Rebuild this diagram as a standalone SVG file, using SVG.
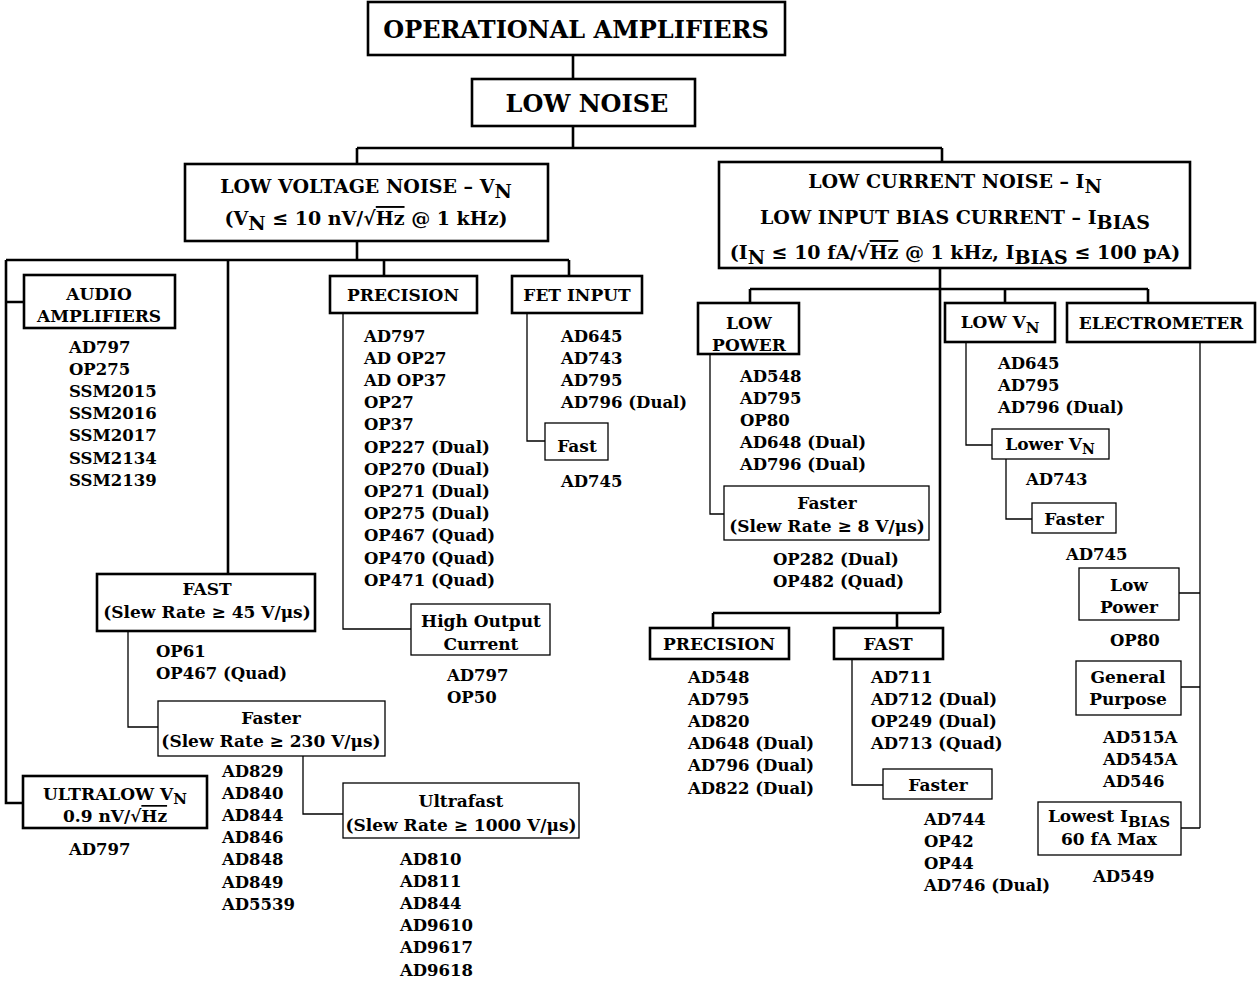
<svg xmlns="http://www.w3.org/2000/svg" width="1258" height="983" viewBox="0 0 1258 983">
<style>
text { font-family: "DejaVu Serif", "Liberation Serif", serif; font-weight: bold; fill: #000; }
.h1 { font-size: 24px; }
.h2 { font-size: 19px; }
.bt { font-size: 17px; }
.li { font-size: 16.5px; }
.c { text-anchor: middle; }
.tb { fill: #fff; stroke: #000; stroke-width: 2.6; }
.tn { fill: #fff; stroke: #000; stroke-width: 1.3; }
.ct { stroke: #000; stroke-width: 2.6; fill: none; }
.cn { stroke: #000; stroke-width: 1.3; fill: none; }
.ov { text-decoration: overline; }
</style>
<rect width="1258" height="983" fill="#fff"/>

<g id="connectors">
  <path class="ct" d="M573 55V79M573 126V148M357 148H942M357 148V164M942 148V162"/>
  <path class="ct" d="M357 241V260M6 260H569M6 260V803H23M6 302H24M228 260V574M384 260V276M569 260V276"/>
  <path class="cn" d="M343 313V629H411M527 313V441H545M128 631V727H158M303 756V814H343"/>
  <path class="ct" d="M940 268V613M750 289H1148M750 289V303M1005 289V303M1148 289V303M713 613H940M713 613V628M897 613V628"/>
  <path class="cn" d="M710 354V514H724M852 659V785H883M966 342V445H992M1006 459V519H1032M1200 342V828M1179 593H1200M1181 687H1200M1181 828H1200"/>
</g>

<g id="op-amps">
  <rect class="tb" x="368" y="2" width="417" height="53"/>
  <text class="h1 c" x="576" y="38">OPERATIONAL AMPLIFIERS</text>
</g>
<g id="low-noise">
  <rect class="tb" x="472" y="79" width="223" height="47"/>
  <text class="h1 c" x="587" y="112">LOW NOISE</text>
</g>
<g id="low-voltage-noise">
  <rect class="tb" x="185" y="164" width="363" height="77"/>
  <text class="h2 c" x="366" y="193">LOW VOLTAGE NOISE – V<tspan dy="5">N</tspan></text>
  <text class="h2 c" x="366" y="225">(V<tspan dy="5">N</tspan><tspan dy="-5"> ≤ 10 nV/√</tspan><tspan class="ov">Hz</tspan> @ 1 kHz)</text>
</g>
<g id="low-current-noise">
  <rect class="tb" x="719" y="162" width="471" height="106"/>
  <text class="h2 c" x="955" y="188">LOW CURRENT NOISE –  I<tspan dy="5">N</tspan></text>
  <text class="h2 c" x="955" y="224">LOW INPUT BIAS CURRENT – I<tspan dy="5">BIAS</tspan></text>
  <text class="h2 c" x="955" y="259">(I<tspan dy="5">N</tspan><tspan dy="-5"> ≤ 10 fA/√</tspan><tspan class="ov">Hz</tspan> @ 1 kHz, I<tspan dy="5">BIAS</tspan><tspan dy="-5"> ≤ 100 pA)</tspan></text>
</g>

<g id="audio">
  <rect class="tb" x="24" y="275" width="151" height="53"/>
  <text class="bt c" x="99" y="300">AUDIO</text>
  <text class="bt c" x="99" y="322">AMPLIFIERS</text>
  <text class="li" x="69" y="352.5">AD797</text>
  <text class="li" x="69" y="374.7">OP275</text>
  <text class="li" x="69" y="396.9">SSM2015</text>
  <text class="li" x="69" y="419.1">SSM2016</text>
  <text class="li" x="69" y="441.3">SSM2017</text>
  <text class="li" x="69" y="463.5">SSM2134</text>
  <text class="li" x="69" y="485.7">SSM2139</text>
</g>

<g id="precision-v">
  <rect class="tb" x="330" y="276" width="147" height="37"/>
  <text class="bt c" x="403" y="301">PRECISION</text>
  <text class="li" x="364" y="341.5">AD797</text>
  <text class="li" x="364" y="363.7">AD OP27</text>
  <text class="li" x="364" y="385.9">AD OP37</text>
  <text class="li" x="364" y="408.1">OP27</text>
  <text class="li" x="364" y="430.3">OP37</text>
  <text class="li" x="364" y="452.5">OP227 (Dual)</text>
  <text class="li" x="364" y="474.7">OP270 (Dual)</text>
  <text class="li" x="364" y="496.9">OP271 (Dual)</text>
  <text class="li" x="364" y="519.1">OP275 (Dual)</text>
  <text class="li" x="364" y="541.3">OP467 (Quad)</text>
  <text class="li" x="364" y="563.5">OP470 (Quad)</text>
  <text class="li" x="364" y="585.7">OP471 (Quad)</text>
</g>
<g id="high-output">
  <rect class="tn" x="411" y="604" width="139" height="51"/>
  <text class="bt c" x="481" y="627">High Output</text>
  <text class="bt c" x="481" y="650">Current</text>
  <text class="li" x="447" y="680.5">AD797</text>
  <text class="li" x="447" y="702.7">OP50</text>
</g>

<g id="fet-input">
  <rect class="tb" x="512" y="276" width="130" height="37"/>
  <text class="bt c" x="577" y="301">FET INPUT</text>
  <text class="li" x="561" y="341.5">AD645</text>
  <text class="li" x="561" y="363.7">AD743</text>
  <text class="li" x="561" y="385.9">AD795</text>
  <text class="li" x="561" y="408.1">AD796 (Dual)</text>
</g>
<g id="fet-fast">
  <rect class="tn" x="545" y="423" width="63" height="37"/>
  <text class="bt c" x="577" y="452">Fast</text>
  <text class="li" x="561" y="486.5">AD745</text>
</g>

<g id="fast-v">
  <rect class="tb" x="97" y="574" width="218" height="57"/>
  <text class="bt c" x="207" y="595">FAST</text>
  <text class="bt c" x="207" y="618">(Slew Rate ≥  45 V/μs)</text>
  <text class="li" x="156" y="656.5">OP61</text>
  <text class="li" x="156" y="678.7">OP467 (Quad)</text>
</g>
<g id="faster-v">
  <rect class="tn" x="158" y="701" width="227" height="55"/>
  <text class="bt c" x="271" y="724">Faster</text>
  <text class="bt c" x="271" y="747">(Slew Rate ≥ 230 V/μs)</text>
  <text class="li" x="222" y="776.5">AD829</text>
  <text class="li" x="222" y="798.7">AD840</text>
  <text class="li" x="222" y="820.9">AD844</text>
  <text class="li" x="222" y="843.1">AD846</text>
  <text class="li" x="222" y="865.3">AD848</text>
  <text class="li" x="222" y="887.5">AD849</text>
  <text class="li" x="222" y="909.7">AD5539</text>
</g>
<g id="ultrafast">
  <rect class="tn" x="343" y="783" width="236" height="55"/>
  <text class="bt c" x="461" y="807">Ultrafast</text>
  <text class="bt c" x="461" y="831">(Slew Rate ≥ 1000 V/μs)</text>
  <text class="li" x="400" y="864.5">AD810</text>
  <text class="li" x="400" y="886.7">AD811</text>
  <text class="li" x="400" y="908.9">AD844</text>
  <text class="li" x="400" y="931.1">AD9610</text>
  <text class="li" x="400" y="953.3">AD9617</text>
  <text class="li" x="400" y="975.5">AD9618</text>
</g>
<g id="ultralow">
  <rect class="tb" x="23" y="776" width="184" height="52"/>
  <text class="bt c" x="115" y="800">ULTRALOW V<tspan dy="4" font-size="15">N</tspan></text>
  <text class="bt c" x="115" y="822">0.9 nV/√<tspan class="ov">Hz</tspan></text>
  <text class="li" x="69" y="854.5">AD797</text>
</g>

<g id="low-power">
  <rect class="tb" x="698" y="303" width="101" height="51"/>
  <text class="bt c" x="749" y="329">LOW</text>
  <text class="bt c" x="749" y="351">POWER</text>
  <text class="li" x="740" y="381.5">AD548</text>
  <text class="li" x="740" y="403.7">AD795</text>
  <text class="li" x="740" y="425.9">OP80</text>
  <text class="li" x="740" y="448.1">AD648 (Dual)</text>
  <text class="li" x="740" y="470.3">AD796 (Dual)</text>
</g>
<g id="low-power-faster">
  <rect class="tn" x="724" y="486" width="205" height="54"/>
  <text class="bt c" x="827" y="509">Faster</text>
  <text class="bt c" x="827" y="532">(Slew Rate ≥  8 V/μs)</text>
  <text class="li" x="773" y="564.5">OP282 (Dual)</text>
  <text class="li" x="773" y="586.7">OP482 (Quad)</text>
</g>

<g id="precision-i">
  <rect class="tb" x="650" y="628" width="139" height="31"/>
  <text class="bt c" x="719" y="650">PRECISION</text>
  <text class="li" x="688" y="682.5">AD548</text>
  <text class="li" x="688" y="704.7">AD795</text>
  <text class="li" x="688" y="726.9">AD820</text>
  <text class="li" x="688" y="749.1">AD648 (Dual)</text>
  <text class="li" x="688" y="771.3">AD796 (Dual)</text>
  <text class="li" x="688" y="793.5">AD822 (Dual)</text>
</g>
<g id="fast-i">
  <rect class="tb" x="834" y="628" width="109" height="31"/>
  <text class="bt c" x="888" y="650">FAST</text>
  <text class="li" x="871" y="682.5">AD711</text>
  <text class="li" x="871" y="704.7">AD712 (Dual)</text>
  <text class="li" x="871" y="726.9">OP249 (Dual)</text>
  <text class="li" x="871" y="749.1">AD713 (Quad)</text>
</g>
<g id="fast-i-faster">
  <rect class="tn" x="883" y="769" width="109" height="30"/>
  <text class="bt c" x="938" y="791">Faster</text>
  <text class="li" x="924" y="824.5">AD744</text>
  <text class="li" x="924" y="846.7">OP42</text>
  <text class="li" x="924" y="868.9">OP44</text>
  <text class="li" x="924" y="891.1">AD746 (Dual)</text>
</g>

<g id="low-vn">
  <rect class="tb" x="945" y="303" width="110" height="39"/>
  <text class="bt c" x="1000" y="328">LOW V<tspan dy="5" font-size="15">N</tspan></text>
  <text class="li" x="998" y="368.5">AD645</text>
  <text class="li" x="998" y="390.7">AD795</text>
  <text class="li" x="998" y="412.9">AD796 (Dual)</text>
</g>
<g id="lower-vn">
  <rect class="tn" x="992" y="429" width="117" height="30"/>
  <text class="bt c" x="1050" y="450">Lower V<tspan dy="4" font-size="14">N</tspan></text>
  <text class="li" x="1026" y="484.5">AD743</text>
</g>
<g id="lower-vn-faster">
  <rect class="tn" x="1032" y="503" width="84" height="30"/>
  <text class="bt c" x="1074" y="525">Faster</text>
  <text class="li" x="1066" y="559.5">AD745</text>
</g>

<g id="electrometer">
  <rect class="tb" x="1067" y="303" width="188" height="39"/>
  <text class="bt c" x="1161" y="329">ELECTROMETER</text>
</g>
<g id="el-low-power">
  <rect class="tn" x="1079" y="568" width="100" height="52"/>
  <text class="bt c" x="1129" y="591">Low</text>
  <text class="bt c" x="1129" y="613">Power</text>
  <text class="li" x="1110" y="645.5">OP80</text>
</g>
<g id="el-general">
  <rect class="tn" x="1076" y="661" width="105" height="54"/>
  <text class="bt c" x="1128" y="683">General</text>
  <text class="bt c" x="1128" y="705">Purpose</text>
  <text class="li" x="1103" y="742.5">AD515A</text>
  <text class="li" x="1103" y="764.7">AD545A</text>
  <text class="li" x="1103" y="786.9">AD546</text>
</g>
<g id="el-lowest">
  <rect class="tn" x="1038" y="802" width="143" height="53"/>
  <text class="bt c" x="1109" y="822">Lowest I<tspan dy="5" font-size="15">BIAS</tspan></text>
  <text class="bt c" x="1109" y="845">60 fA Max</text>
  <text class="li" x="1093" y="881.5">AD549</text>
</g>
</svg>
